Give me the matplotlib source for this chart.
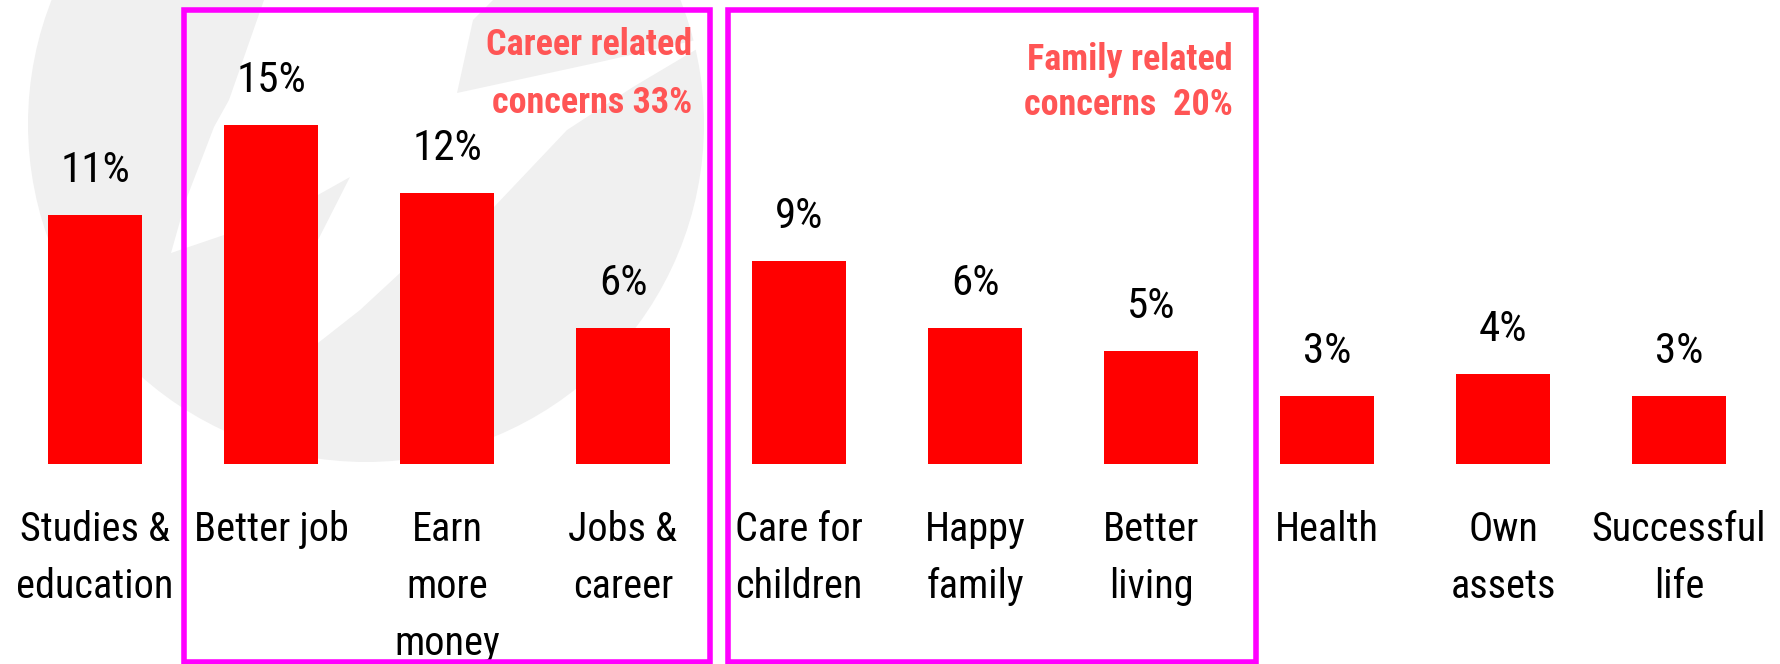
import matplotlib
matplotlib.use("Agg")
import matplotlib.pyplot as plt
from matplotlib import font_manager
from matplotlib.patches import Ellipse, Polygon, Rectangle

# data
categories = ["Studies &\neducation", "Better job", "Earn\nmore\nmoney", "Jobs &\ncareer",
              "Care for\nchildren", "Happy\nfamily", "Better\nliving",
              "Health", "Own\nassets", "Successful\nlife"]
values = [11, 15, 12, 6, 9, 6, 5, 3, 4, 3]
group_labels = ["Career related\nconcerns 33%", "Family related\nconcerns  20%"]
group_members = [(1, 3), (4, 6)]

# faint logo behind the bars, in figure pixels (y from top)
LOGO_CENTER = (366, 124)
LOGO_RADIUS = 338
LOGO_CUT = [(264, 0), (257, 20), (229, 100), (214, 127), (186, 200), (171, 253),
            (224, 235), (300, 205), (350, 177), (318, 240), (300, 300), (318, 343),
            (360, 310), (400, 273), (494, 207), (567, 130), (633, 87), (702, 46),
            (705, 38), (600, 62), (457, 93), (473, 20), (493, 0)]

W, H, DPI = 1780, 664, 100
PT = 72 / DPI  # points per pixel
RED = "#FF0000"
MAGENTA = "#FF00FF"
NOTE = "#FF5555"

# the original uses a narrow sans; take one if the machine has it
avail = {f.name for f in font_manager.fontManager.ttflist}
narrow = next((n for n in ("Liberation Sans Narrow", "Roboto Condensed", "Arial Narrow")
               if n in avail), None)
if narrow:
    FONT = [narrow, "Liberation Sans", "DejaVu Sans"]
    fs_value, fs_cat, fs_note = 31, 29, 26
else:
    FONT = ["Liberation Sans", "DejaVu Sans"]
    fs_value, fs_cat, fs_note = 27.5, 26, 23

fig = plt.figure(figsize=(W / DPI, H / DPI), dpi=DPI)

bg = fig.add_axes([0, 0, 1, 1], zorder=0)
bg.set_xlim(0, W)
bg.set_ylim(H, 0)
bg.axis("off")
bg.add_patch(Ellipse(LOGO_CENTER, 2 * LOGO_RADIUS, 2 * LOGO_RADIUS, color="#F0F0F0", lw=0))
bg.add_patch(Polygon(LOGO_CUT, closed=True, color="white", lw=0))

ax = fig.add_axes([0, 0, 1, 1], zorder=1)
ax.patch.set_alpha(0)
ax.axis("off")
px_per_unit = 22.6
ax.set_xlim(-95 / 176, (W - 95) / 176)
ax.set_ylim(-200 / px_per_unit, (H - 200) / px_per_unit)

x = range(len(values))
ax.bar(x, values, width=0.534, color=RED, zorder=2)

for xi, v in zip(x, values):
    ax.annotate(f"{v}%", (xi, v), xytext=(0, 33 * PT), textcoords="offset points",
                ha="center", va="baseline", fontsize=fs_value, family=FONT)

# category names, one text per line so the spacing is exact
for xi, lab in zip(x, categories):
    for i, line in enumerate(lab.split("\n")):
        ax.annotate(line, (xi, 0), xytext=(0, -(77 + 57 * i) * PT), textcoords="offset points",
                    ha="center", va="baseline", fontsize=fs_cat, family=FONT)

# group boxes with their notes
box_pad = [(-0.497, 0.494), (-0.401, 0.594)]
box_top, box_bottom = 20.11, -8.74
note_pos = [(18, (45.5, 103.5)), (22.5, (60.5, 105.5))]
for (a, b), (pl, pr), lab, (dx, dys) in zip(group_members, box_pad, group_labels, note_pos):
    left, right = a + pl, b + pr
    ax.add_patch(Rectangle((left, box_bottom), right - left, box_top - box_bottom,
                           fill=False, edgecolor=MAGENTA, lw=4, zorder=3, clip_on=False))
    for line, dy in zip(lab.split("\n"), dys):
        ax.annotate(line, (right, box_top), xytext=(-dx * PT, -dy * PT), textcoords="offset points",
                    ha="right", va="baseline", fontsize=fs_note, fontweight="bold",
                    family=FONT, color=NOTE)

fig.savefig("out.png", dpi=DPI)
